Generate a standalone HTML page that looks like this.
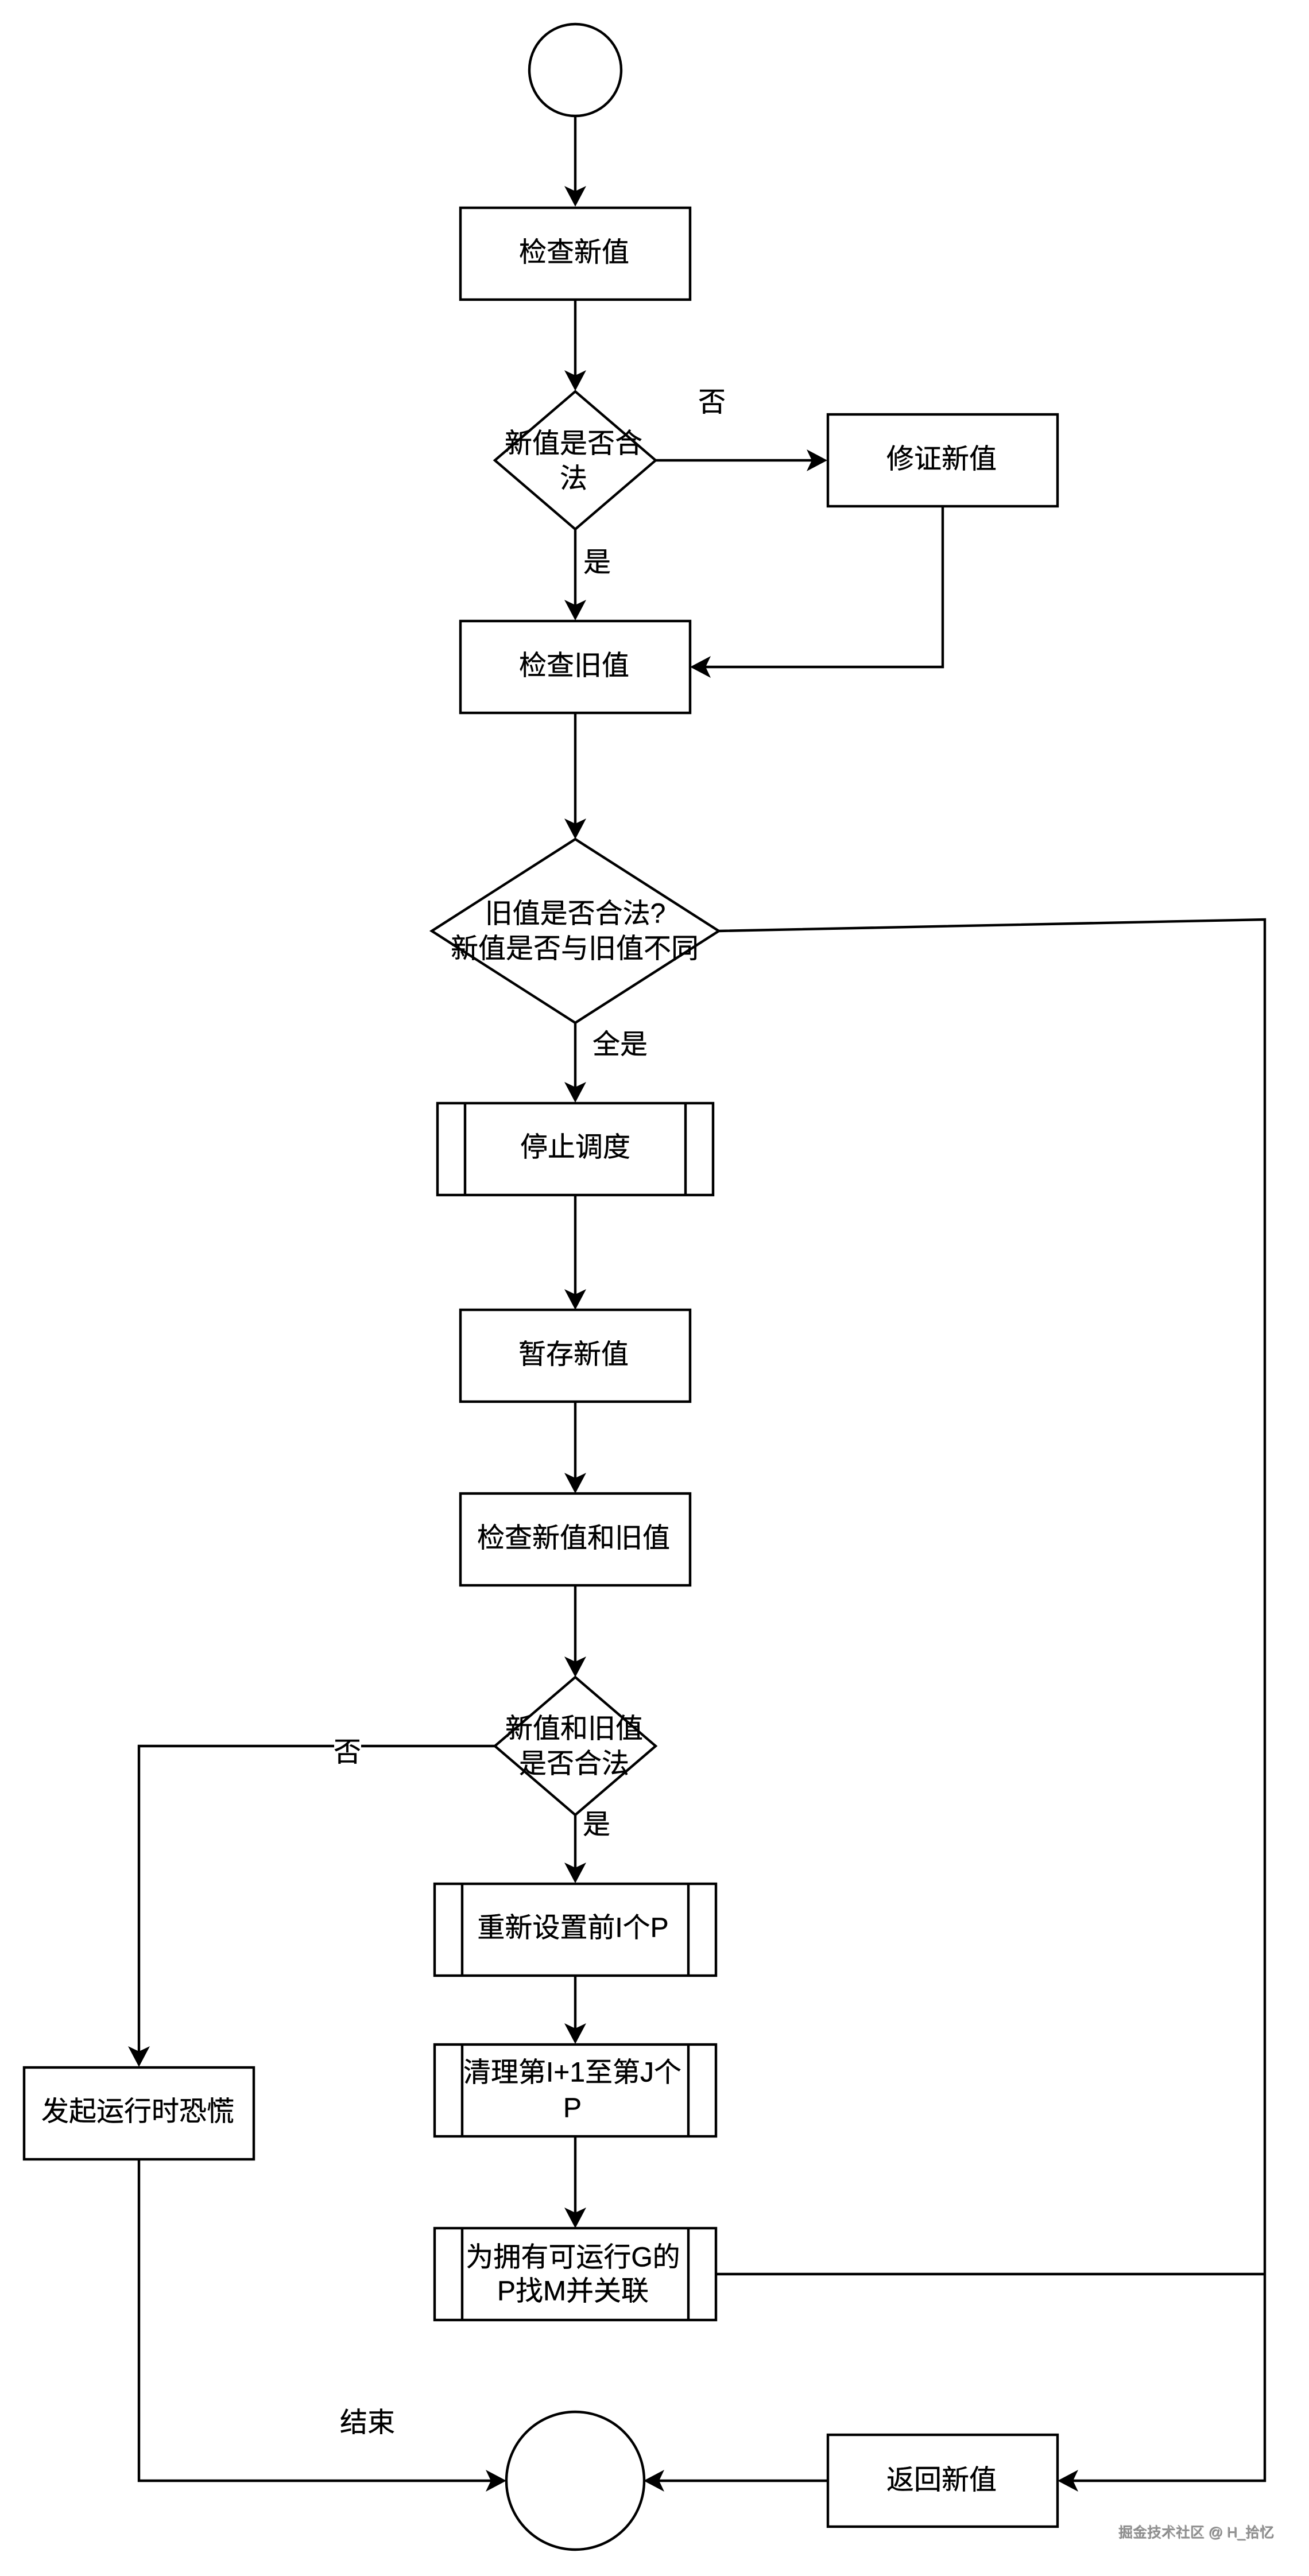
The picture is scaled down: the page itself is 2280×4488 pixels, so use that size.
<!DOCTYPE html>
<html lang="zh"><head><meta charset="utf-8"><title>Flowchart</title>
<style>
html,body{margin:0;padding:0;background:#fff}
svg{display:block}
text{font-family:"Liberation Sans","Noto Sans CJK SC",sans-serif;font-size:48px;fill:#000;stroke:#000;stroke-width:.4px;text-anchor:middle;dominant-baseline:central}
.s{fill:#fff;stroke:#000;stroke-width:4.4}
.l{fill:none;stroke:#000;stroke-width:4.4}
</style></head><body>
<svg xmlns="http://www.w3.org/2000/svg" width="2280" height="4488" viewBox="0 0 2280 4488">
<defs>
<marker id="a" markerUnits="userSpaceOnUse" markerWidth="38" markerHeight="38" refX="26" refY="19" orient="auto" overflow="visible">
<path d="M36 19L0 0L9 19L0 38Z" fill="#000"/>
</marker>
</defs>
<rect width="2280" height="4488" fill="#fff"/>

<!-- connectors -->
<path class="l" marker-end="url(#a)" d="M1002 202V350"/>
<path class="l" marker-end="url(#a)" d="M1002 522V671"/>
<path class="l" marker-end="url(#a)" d="M1141 802H1431"/>
<path class="l" marker-end="url(#a)" d="M1002 922V1071"/>
<path class="l" marker-end="url(#a)" d="M1642 881V1162H1212"/>
<path class="l" marker-end="url(#a)" d="M1002 1242V1452"/>
<path class="l" marker-end="url(#a)" d="M1002 1782V1911"/>
<path class="l" marker-end="url(#a)" d="M1002 2082V2272"/>
<path class="l" marker-end="url(#a)" d="M1002 2442V2592"/>
<path class="l" marker-end="url(#a)" d="M1002 2762V2912"/>
<path class="l" marker-end="url(#a)" d="M1002 3161V3271"/>
<path class="l" marker-end="url(#a)" d="M1002 3442V3551"/>
<path class="l" marker-end="url(#a)" d="M1002 3722V3872"/>
<path class="l" marker-end="url(#a)" d="M862 3042H242V3591"/>
<path class="l" marker-end="url(#a)" d="M242 3762V4322H872"/>
<path class="l" marker-end="url(#a)" d="M1442 4322H1131"/>
<path class="l" marker-end="url(#a)" d="M1252 1622L2203 1602V4322H1852"/>
<path class="l" d="M1247 3962H2203"/>

<!-- nodes -->
<circle class="s" cx="1002" cy="122" r="80"/>
<rect class="s" x="802" y="362" width="400" height="160"/>
<polygon class="s" points="1002,682 1142,802 1002,922 862,802"/>
<rect class="s" x="1442" y="722" width="400" height="160"/>
<rect class="s" x="802" y="1082" width="400" height="160"/>
<polygon class="s" points="1002,1462 1252,1622 1002,1782 752,1622"/>
<rect class="s" x="762" y="1922" width="480" height="160"/>
<path class="l" d="M810 1922V2082M1194 1922V2082"/>
<rect class="s" x="802" y="2282" width="400" height="160"/>
<rect class="s" x="802" y="2602" width="400" height="160"/>
<polygon class="s" points="1002,2922 1142,3042 1002,3162 862,3042"/>
<rect class="s" x="757" y="3282" width="490" height="160"/>
<path class="l" d="M805 3282V3442M1199 3282V3442"/>
<rect class="s" x="757" y="3562" width="490" height="160"/>
<path class="l" d="M805 3562V3722M1199 3562V3722"/>
<rect class="s" x="757" y="3882" width="490" height="160"/>
<path class="l" d="M805 3882V4042M1199 3882V4042"/>
<rect class="s" x="42" y="3602" width="400" height="160"/>
<circle class="s" cx="1002" cy="4322" r="120"/>
<rect class="s" x="1442" y="4242" width="400" height="160"/>

<!-- labels -->
<text x="1000" y="440">检查新值</text>
<text x="999" y="773">新值是否合</text>
<text x="999" y="834">法</text>
<text x="1240" y="701">否</text>
<text x="1640" y="800">修证新值</text>
<text x="1040" y="980">是</text>
<text x="1000" y="1160">检查旧值</text>
<text x="1002" y="1592">旧值是否合法?</text>
<text x="1001" y="1653">新值是否与旧值不同</text>
<text x="1080" y="1820">全是</text>
<text x="1002" y="1999">停止调度</text>
<text x="999" y="2360">暂存新值</text>
<text x="999" y="2680">检查新值和旧值</text>
<text x="1000" y="3012">新值和旧值</text>
<text x="1000" y="3073">是否合法</text>
<rect x="582" y="3025" width="47" height="40" fill="#fff"/>
<text x="605" y="3053">否</text>
<text x="1039" y="3179">是</text>
<text x="998" y="3359">重新设置前I个P</text>
<text x="997" y="3611">清理第I+1至第J个</text>
<text x="997" y="3673">P</text>
<text x="998" y="3933">为拥有可运行G的</text>
<text x="998" y="3992">P找M并关联</text>
<text x="240" y="3679">发起运行时恐慌</text>
<text x="640" y="4221">结束</text>
<text x="1640" y="4321">返回新值</text>
<text x="2083" y="4412" style="font-size:25px;fill:#9a9a9a;stroke:none;text-shadow:1px 1px 1px #666">掘金技术社区 @ H_拾忆</text>
</svg>
</body></html>
